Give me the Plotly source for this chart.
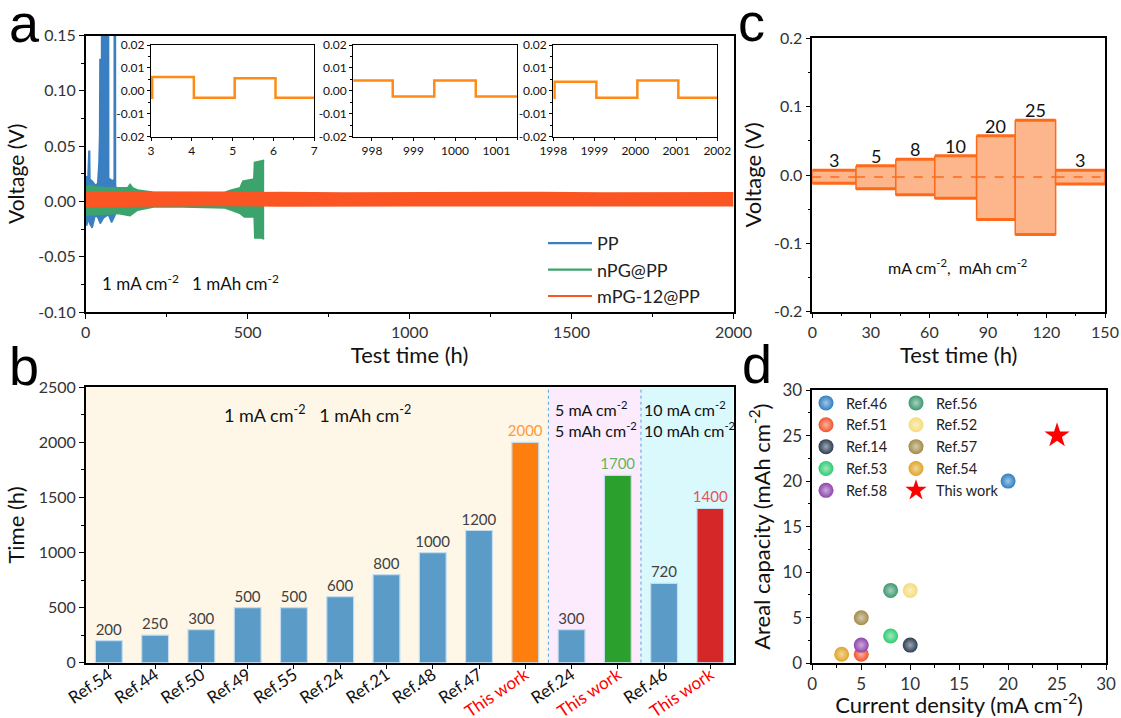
import plotly.graph_objects as go

W, H = 1121, 718
FONT = "Lato"
LETTER_FONT = "Liberation Sans"

# ---------------- Panel a : long-term Li||Li cycling (voltage envelopes, V vs h)
pp_up_t = [0, 3, 8, 9, 11, 12, 20, 30, 38, 42, 44, 45, 50, 51, 69, 70, 75, 82, 89, 89.5, 90.5, 91, 95, 97]
pp_up_v = [0.018, 0.022, 0.022, 0.046, 0.046, 0.020, 0.018, 0.014, 0.016, 0.035, 0.060, 0.128,
           0.128, 0.300, 0.300, 0.020, 0.020, 0.018, 0.020, 0.300, 0.300, 0.015, 0.010, 0.005]
pp_lo_t = [0, 3, 8, 12, 20, 30, 38, 45, 55, 70, 80, 90, 97]
pp_lo_v = [-0.015, -0.022, -0.015, -0.020, -0.024, -0.012, -0.015, -0.020, -0.015, -0.012, -0.019, -0.013, -0.005]

npg_up_t = [0, 10, 30, 60, 100, 130, 137, 145, 160, 210, 300, 430, 450, 477, 486, 500, 520, 522, 540, 551]
npg_up_v = [0.012, 0.014, 0.013, 0.012, 0.012, 0.012, 0.015, 0.012, 0.010, 0.008, 0.008, 0.008,
            0.010, 0.012, 0.018, 0.019, 0.020, 0.035, 0.036, 0.037]
npg_lo_t = [0, 30, 100, 137, 160, 210, 300, 430, 450, 477, 490, 520, 522, 540, 551]
npg_lo_v = [-0.012, -0.012, -0.011, -0.013, -0.008, -0.005, -0.005, -0.006, -0.008, -0.011,
            -0.014, -0.014, -0.033, -0.033, -0.034]

mpg_t = [0, 100, 200, 400, 600, 800, 1000, 1200, 1400, 1600, 1800, 2000]
mpg_up = [0.0085, 0.0080, 0.0078, 0.0074, 0.0077, 0.0073, 0.0076, 0.0074, 0.0077, 0.0073, 0.0076, 0.0075]
mpg_lo = [-0.0045, -0.0042, -0.0040, -0.0038, -0.0041, -0.0038, -0.0040, -0.0039, -0.0041, -0.0038, -0.0040, -0.0039]

a_series = ["PP", "nPG@PP", "mPG-12@PP"]
a_colors = ["#3a7fc1", "#3ca36c", "#fa5522"]

# insets (zoomed voltage profiles of mPG-12@PP)
ins1_edges = [3, 3.03, 4.05, 5.05, 6.05, 7]
ins1_levels = [-0.003, 0.006, -0.003, 0.0055, -0.003]
ins2_edges = [997.5, 998.5, 999.5, 1000.5, 1001.5]
ins2_levels = [0.0045, -0.0025, 0.0045, -0.0025]
ins3_edges = [1998, 1998.03, 1999.05, 2000.05, 2001.05, 2002]
ins3_levels = [-0.003, 0.004, -0.003, 0.0045, -0.003]

# ---------------- Panel b : lifetime comparison
b_labels = ["Ref.54", "Ref.44", "Ref.50", "Ref.49", "Ref.55", "Ref.24", "Ref.21", "Ref.48",
            "Ref.47", "This work", "Ref.24", "This work", "Ref.46", "This work"]
b_values = [200, 250, 300, 500, 500, 600, 800, 1000, 1200, 2000, 300, 1700, 720, 1400]
b_colors = ["#5b9bc7"] * 9 + ["#ff7f0e", "#5b9bc7", "#2ca02c", "#5b9bc7", "#d62728"]
b_text_colors = ["#404040"] * 9 + ["#ff9a3c", "#404040", "#5cb85c", "#404040", "#e8525a"]
b_group_sizes = [10, 2, 2]
b_group_bg = ["#fef7e8", "#fcebfc", "#daf9fc"]

# ---------------- Panel c : rate performance
c_start = [0, 22.4, 42.8, 62.8, 84.2, 104.0, 124.7]
c_end = [22.4, 42.8, 62.8, 84.2, 104.0, 124.7, 150]
c_upper = [0.007, 0.0135, 0.023, 0.028, 0.0575, 0.080, 0.007]
c_lower = [-0.012, -0.020, -0.029, -0.034, -0.065, -0.087, -0.013]
c_mid = [-0.003, -0.003, -0.003, -0.003, -0.003, -0.003, -0.003]
c_labels = ["3", "5", "8", "10", "20", "25", "3"]

# ---------------- Panel d : areal capacity vs current density
d_refs = ["Ref.46", "Ref.51", "Ref.14", "Ref.53", "Ref.58", "Ref.56", "Ref.52", "Ref.57", "Ref.54"]
d_x = [20, 5, 10, 8, 5, 8, 10, 5, 3]
d_y = [20, 1, 2, 3, 2, 8, 8, 5, 1]
d_colors = ["#2f7fc1", "#f2542d", "#2c3e55", "#2ecc71", "#8e44ad", "#3d9970", "#f5dc7a", "#a38b4a", "#e0a526"]
d_this_x, d_this_y = [25], [25]


def px(x):
    return x / W


def py(y):
    return 1 - y / H


def tint(hexcol, f=0.55):
    h = hexcol.lstrip('#')
    r, g, b = int(h[0:2], 16), int(h[2:4], 16), int(h[4:6], 16)
    r, g, b = [int(c + (255 - c) * f) for c in (r, g, b)]
    return f"rgb({r},{g},{b})"


fig = go.Figure()

# ---- panel a traces (upper envelope line carries the legend, lower envelope fills to it)
env = [(pp_up_t, pp_up_v, pp_lo_t, pp_lo_v), (npg_up_t, npg_up_v, npg_lo_t, npg_lo_v), (mpg_t, mpg_up, mpg_t, mpg_lo)]
for name, col, (ut, uv, lt, lv) in zip(a_series, a_colors, env):
    fig.add_trace(go.Scatter(x=ut, y=uv, mode='lines', line=dict(color=col, width=2.2),
                             name=name, xaxis='x', yaxis='y', legend='legend', hoverinfo='skip'))
    fig.add_trace(go.Scatter(x=lt, y=lv, mode='lines', line=dict(color=col, width=1.5), fill='tonexty',
                             fillcolor=col, showlegend=False, xaxis='x', yaxis='y', hoverinfo='skip'))

for i, (edges, levels) in enumerate([(ins1_edges, ins1_levels), (ins2_edges, ins2_levels), (ins3_edges, ins3_levels)]):
    n = i + 2
    fig.add_trace(go.Scatter(x=edges, y=list(levels) + [levels[-1]], mode='lines', line_shape='hv',
                             line=dict(color='#ff8a14', width=2.5), showlegend=False,
                             xaxis=f'x{n}', yaxis=f'y{n}'))

# ---- panel b
b_idx = list(range(len(b_values)))
fig.add_trace(go.Bar(x=b_idx, y=b_values, width=0.58, marker=dict(color=b_colors, line=dict(color='#c4ddef', width=1.2)),
                     text=[str(v) for v in b_values], textposition='outside', cliponaxis=False,
                     constraintext='none',
                     textfont=dict(family=FONT, size=15, color=b_text_colors),
                     showlegend=False, xaxis='x5', yaxis='y5'))

# ---- panel c
for s, e, u, l in zip(c_start, c_end, c_upper, c_lower):
    fig.add_trace(go.Scatter(x=[s, e, e, s, s], y=[u, u, l, l, u], fill='toself', fillcolor='#fdb68c',
                             mode='lines', line=dict(color='#ff6a1a', width=1.5), showlegend=False,
                             xaxis='x6', yaxis='y6', hoverinfo='skip'))
    fig.add_trace(go.Scatter(x=[s, e], y=[u, u], mode='lines', line=dict(color='#ff6a1a', width=3),
                             showlegend=False, xaxis='x6', yaxis='y6'))
    fig.add_trace(go.Scatter(x=[s, e], y=[l, l], mode='lines', line=dict(color='#ff6a1a', width=3),
                             showlegend=False, xaxis='x6', yaxis='y6'))
for s, e, m in zip(c_start, c_end, c_mid):
    fig.add_trace(go.Scatter(x=[s, e], y=[m, m], mode='lines', line=dict(color='#ff6a1a', width=1.5, dash='dash'),
                             showlegend=False, xaxis='x6', yaxis='y6'))

# ---- panel d
for k, (r, x, y, c) in enumerate(zip(d_refs, d_x, d_y, d_colors)):
    fig.add_trace(go.Scatter(x=[x], y=[y], mode='markers', name=r,
                             marker=dict(size=15, color=c, gradient=dict(type='radial', color=tint(c)),
                                         line=dict(width=0)),
                             xaxis='x7', yaxis='y7', legend='legend2' if k < 5 else 'legend3'))
fig.add_trace(go.Scatter(x=d_this_x, y=d_this_y, mode='markers', name='This work',
                         marker=dict(symbol='star', size=19, color='#ff0000', line=dict(width=0)),
                         xaxis='x7', yaxis='y7', legend='legend3'))

# ---------------- axes
tickf = dict(family=FONT, size=16, color='#333')


def ax(**kw):
    d = dict(showline=True, linecolor='black', linewidth=1.5, mirror=True, ticks='outside', ticklen=5,
             tickwidth=1.2, tickcolor='black', showgrid=False, zeroline=False, tickfont=tickf,
             automargin=False,
             minor=dict(ticks='outside', ticklen=3, tickcolor='black', tickwidth=1))
    d.update(kw)
    return d


a_yt = [-0.10, -0.05, 0.00, 0.05, 0.10, 0.15]
ins_yt = [-0.02, -0.01, 0.00, 0.01, 0.02]
c_yt = [-0.2, -0.1, 0.0, 0.1, 0.2]

layout = dict(
    width=W, height=H, margin=dict(l=0, r=0, t=0, b=0, autoexpand=False),
    paper_bgcolor='white', plot_bgcolor='white', font=dict(family=FONT, color='#222'),
    xaxis=ax(domain=[px(85.7), px(733.5)], anchor='y', range=[0, 2000], tickvals=[0, 500, 1000, 1500, 2000],
             minor=dict(ticks='outside', ticklen=3, tickcolor='black', dtick=250, tick0=0),
             title=dict(text='Test time (h)', font=dict(family=FONT, size=22, color='#111'), standoff=6)),
    yaxis=ax(domain=[py(312), py(35.5)], anchor='x', range=[-0.10, 0.15], tickvals=a_yt,
             ticktext=[f"{v:.2f}" for v in a_yt],
             minor=dict(ticks='outside', ticklen=3, tickcolor='black', dtick=0.025, tick0=0),
             title=dict(text='Voltage (V)', font=dict(family=FONT, size=21, color='#111'), standoff=8)),
    xaxis5=ax(domain=[px(85.7), px(733.5)], anchor='y5', range=[-0.5, len(b_values) - 0.5], tickvals=b_idx,
              ticktext=[(f'<span style="color:red">{t}</span>' if t == 'This work' else t) for t in b_labels],
              tickangle=-34, tickfont=dict(family=FONT, size=17, color='#111'), minor=None,
              ticklabelstandoff=-11),
    yaxis5=ax(domain=[py(662.7), py(387.3)], anchor='x5', range=[0, 2500], dtick=500,
              minor=dict(ticks='outside', ticklen=3, tickcolor='black', dtick=250, tick0=0),
              title=dict(text='Time (h)', font=dict(family=FONT, size=22, color='#111'), standoff=8)),
    xaxis6=ax(domain=[px(812.3), px(1105)], anchor='y6', range=[0, 150], dtick=30,
              minor=dict(ticks='outside', ticklen=3, tickcolor='black', dtick=15, tick0=0),
              title=dict(text='Test time (h)', font=dict(family=FONT, size=22, color='#111'), standoff=4)),
    yaxis6=ax(domain=[py(311.7), py(38.3)], anchor='x6', range=[-0.2, 0.2], tickvals=c_yt,
              ticktext=[f"{v:.1f}" for v in c_yt],
              minor=dict(ticks='outside', ticklen=3, tickcolor='black', dtick=0.05, tick0=0),
              title=dict(text='Voltage (V)', font=dict(family=FONT, size=22, color='#111'), standoff=6)),
    xaxis7=ax(domain=[px(812.3), px(1106)], anchor='y7', range=[0, 30], dtick=5,
              tickfont=dict(family=FONT, size=17, color='#333'),
              minor=dict(ticks='outside', ticklen=3, tickcolor='black', dtick=2.5, tick0=0),
              title=dict(text='Current density (mA cm<sup>-2</sup>)', font=dict(family=FONT, size=22, color='#111'), standoff=6)),
    yaxis7=ax(domain=[py(663.3), py(390)], anchor='x7', range=[0, 30], dtick=5,
              tickfont=dict(family=FONT, size=17, color='#333'),
              minor=dict(ticks='outside', ticklen=3, tickcolor='black', dtick=2.5, tick0=0),
              title=dict(text='Areal capacity (mAh cm<sup>-2</sup>)', font=dict(family=FONT, size=22, color='#111'), standoff=6)),
)

inset_dom = [(151, 314.3, [3, 7], [3, 4, 5, 6, 7]),
             (353.3, 517.3, [997.55, 1001.5], [998, 999, 1000, 1001]),
             (553.3, 717.3, [1998, 2002], [1998, 1999, 2000, 2001, 2002])]
for i, (x0, x1, rng, tv) in enumerate(inset_dom):
    n = i + 2
    layout[f'xaxis{n}'] = ax(domain=[px(x0), px(x1)], anchor=f'y{n}', range=rng, tickvals=tv,
                             tickfont=dict(family=FONT, size=12, color='#111'), ticklen=3, linewidth=1.2,
                             minor=dict(ticks='outside', ticklen=2, tickcolor='black', dtick=0.5, tick0=0))
    layout[f'yaxis{n}'] = ax(domain=[py(136.7), py(45)], anchor=f'x{n}', range=[-0.02, 0.02], tickvals=ins_yt,
                             ticktext=[f"{v:.2f}" for v in ins_yt], ticklen=3, linewidth=1.2,
                             tickfont=dict(family=FONT, size=12, color='#111'),
                             minor=dict(ticks='outside', ticklen=2, tickcolor='black', dtick=0.005, tick0=0))

layout['legend'] = dict(x=px(543), y=py(225), xanchor='left', yanchor='top', bgcolor='rgba(0,0,0,0)',
                        font=dict(family=FONT, size=18, color='#222'), itemwidth=44, tracegroupgap=0,
                        traceorder='normal')
layout['legend2'] = dict(x=px(806), y=py(387), xanchor='left', yanchor='top', bgcolor='rgba(0,0,0,0)',
                         font=dict(family=FONT, size=14.5, color='#222'), tracegroupgap=0, traceorder='normal')
layout['legend3'] = dict(x=px(896), y=py(387), xanchor='left', yanchor='top', bgcolor='rgba(0,0,0,0)',
                         font=dict(family=FONT, size=14.5, color='#222'), tracegroupgap=0, traceorder='normal')

fig.update_layout(**layout)

# ---- panel b background bands and separators
shapes = []
start = -0.5
for size, bg in zip(b_group_sizes, b_group_bg):
    shapes.append(dict(type='rect', xref='x5', yref='y5 domain', x0=start, x1=start + size, y0=0, y1=1,
                       fillcolor=bg, line=dict(width=0), layer='below'))
    if start > -0.5:
        shapes.append(dict(type='line', xref='x5', yref='y5 domain', x0=start, x1=start, y0=0, y1=1,
                           line=dict(color='#4da6e0', width=1, dash='dot'), layer='above'))
    start += size
fig.update_layout(shapes=shapes)

# ---- annotations
sup = 'cm<sup>-2</sup>'
nb = '\u00a0'
ann = [
    dict(text=f'1 mA {sup}{nb*3}1 mAh {sup}', x=44, y=-0.073, xref='x', yref='y', xanchor='left',
         font=dict(size=17)),
    dict(text=f'1 mA {sup}{nb*3}1 mAh {sup}', x=4.5, y=2258, xref='x5', yref='y5', font=dict(size=18)),
    dict(text=f'5 mA {sup}<br>5 mAh {sup}', x=9.59, y=2420, xref='x5', yref='y5', xanchor='left',
         yanchor='top', align='left', font=dict(size=16)),
    dict(text=f'10 mA {sup}<br>10 mAh {sup}', x=11.53, y=2420, xref='x5', yref='y5', xanchor='left',
         yanchor='top', align='left', font=dict(size=16)),
    dict(text=f'mA {sup},{nb*2}mAh {sup}', x=74.2, y=-0.134, xref='x6', yref='y6', font=dict(size=16)),
]
for s, e, u, lab in zip(c_start, c_end, c_upper, c_labels):
    ann.append(dict(text=lab, x=(s + e) / 2, y=u, xref='x6', yref='y6', yanchor='bottom', yshift=-3,
                    font=dict(size=18)))
for letter, x, y in [('a', 7, 23), ('b', 7, 366), ('c', 736, 22), ('d', 740, 364)]:
    ann.append(dict(text=letter, x=px(x), y=py(y), xref='paper', yref='paper', xanchor='left', yanchor='middle',
                    font=dict(family=LETTER_FONT, size=54, color='black')))
for a in ann:
    a.setdefault('showarrow', False)
    f = a.setdefault('font', {})
    f.setdefault('family', FONT)
    f.setdefault('color', '#111')
fig.update_layout(annotations=ann)

fig.write_html("out.html", config={'displayModeBar': False},
               post_script="document.body.style.margin='0';")
